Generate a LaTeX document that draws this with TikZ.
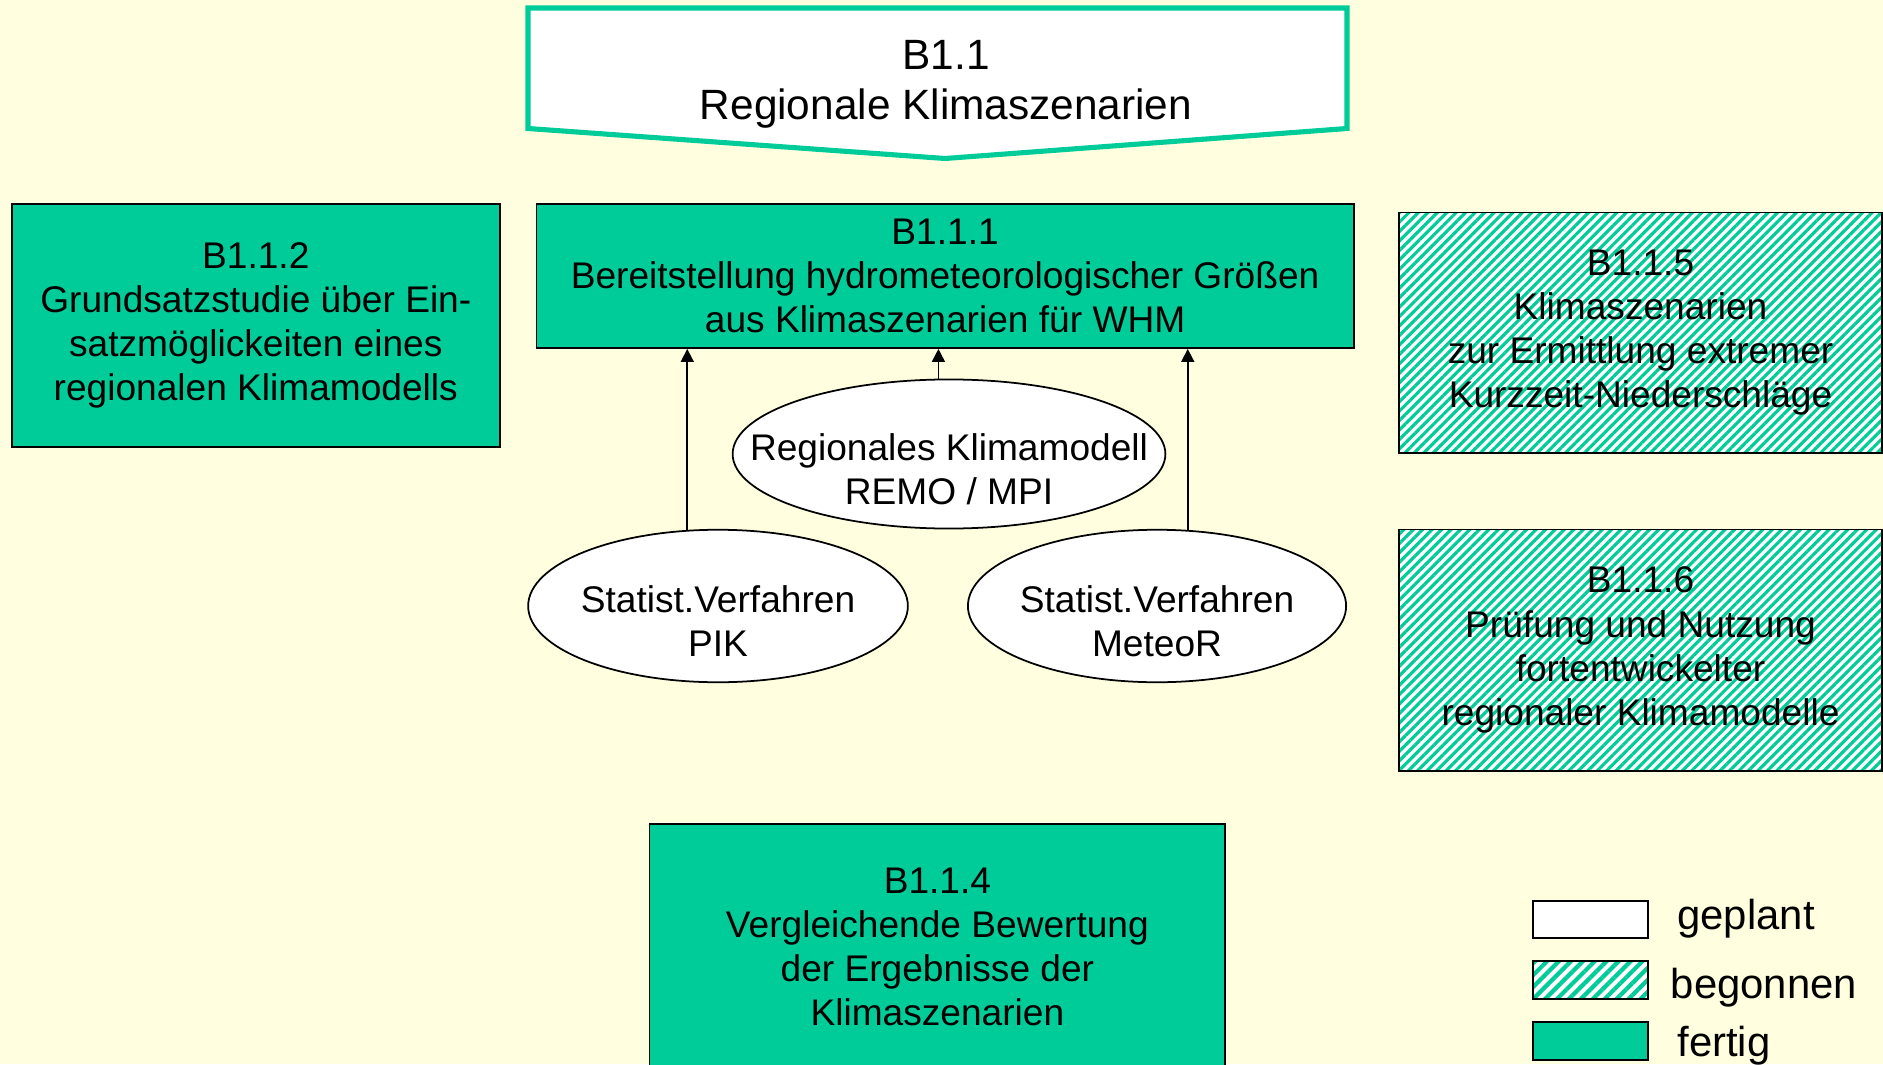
\documentclass[tikz,border=0pt]{standalone}
\usepackage{fontspec}
\setmainfont{Liberation Sans}
\usetikzlibrary{shapes.geometric,arrows.meta,patterns.meta}
\newcommand{\boxfont}{\fontsize{10.55}{12.6}\selectfont}
\newcommand{\bannerfont}{\fontsize{12.05}{14.3}\selectfont}
\newcommand{\legendfont}{\fontsize{11.9}{14}\selectfont}
\begin{document}
\begin{tikzpicture}[x=0.01cm, y=-0.01cm,
  every node/.style={font=\boxfont},
  workbox/.style={draw=black, line width=0.5pt, inner sep=0pt, align=center},
  donebox/.style={workbox, fill=tealgreen},
  startedbox/.style={workbox, preaction={fill=white},
    pattern={Lines[angle=45, distance=1.9pt, line width=0.9pt]}, pattern color=tealgreen},
  methodoval/.style={ellipse, draw=black, line width=0.5pt, fill=white, inner sep=0pt},
  feeds/.style={-{Triangle[length=3.7pt, width=3.7pt]}, line width=0.5pt}]
\definecolor{paleyellow}{RGB}{255,255,224}
\definecolor{tealgreen}{RGB}{0,204,153}
% Page
\useasboundingbox (0,0) rectangle (1883,1064);
\fill[paleyellow] (0,0) rectangle (1883,1064);
% Banner
\filldraw[fill=white, draw=tealgreen, line width=1.45pt, line join=miter]
  (528,8) -- (1347,8) -- (1347,128.5) -- (945,158.5) -- (528,128.5) -- cycle;
\node[align=center, font=\bannerfont] (b11) at (946,84.5) {B1.1\\Regionale Klimaszenarien};
% Work packages
\node[donebox, minimum width=4.876cm, minimum height=2.427cm] (b112) at (255.8,325.4)
  {B1.1.2\\Grundsatzstudie über Ein-\\satzmöglickeiten eines\\regionalen Klimamodells};
\node[donebox, minimum width=8.166cm, minimum height=1.44cm] (b111) at (945.1,276)
  {B1.1.1\\Bereitstellung hydrometeorologischer Größen\\aus Klimaszenarien für WHM};
\node[startedbox, minimum width=4.83cm, minimum height=2.402cm] (b115) at (1640.5,332.6)
  {B1.1.5\\Klimaszenarien\\zur Ermittlung extremer\\Kurzzeit-Niederschläge};
\node[startedbox, minimum width=4.83cm, minimum height=2.414cm] (b116) at (1640.5,650.3)
  {B1.1.6\\Prüfung und Nutzung\\fortentwickelter\\regionaler Klimamodelle};
\node[donebox, minimum width=5.753cm, minimum height=2.462cm] (b114) at (937.4,946.9)
  {B1.1.4\\Vergleichende Bewertung\\der Ergebnisse der\\Klimaszenarien};
% Methods
\node[methodoval, minimum width=4.325cm, minimum height=1.49cm] (remo) at (949,454) {};
\node[align=center] (remotext) at (949,469) {Regionales Klimamodell\\REMO / MPI};
\node[methodoval, minimum width=3.795cm, minimum height=1.524cm] (pik) at (718,606) {};
\node[align=center] (piktext) at (718,621) {Statist.Verfahren\\PIK};
\node[methodoval, minimum width=3.78cm, minimum height=1.524cm] (meteor) at (1157,606) {};
\node[align=center] (meteortext) at (1157,621) {Statist.Verfahren\\MeteoR};
\draw[feeds] (pik.112) -- (pik.112 |- b111.south);
\draw[feeds] (remo.98.4) -- (remo.98.4 |- b111.south);
\draw[feeds] (meteor.68.6) -- (meteor.68.6 |- b111.south);
% Legend
\node[workbox, fill=white, minimum width=1.15cm, minimum height=0.375cm] (keyplanned) at (1590.5,919.4) {};
\node[workbox, preaction={fill=white}, pattern={Lines[angle=45, distance=2.4pt, line width=1.2pt]},
  pattern color=tealgreen, minimum width=1.15cm, minimum height=0.386cm] (keystarted) at (1590.5,980) {};
\node[donebox, minimum width=1.15cm, minimum height=0.377cm] (keydone) at (1590.5,1041) {};
\node[anchor=base west, inner sep=0pt, font=\legendfont] (keyplannedlab) at (1676.7,929.3) {geplant};
\node[anchor=base west, inner sep=0pt, font=\legendfont] (keystartedlab) at (1670,998.3) {begonnen};
\node[anchor=base west, inner sep=0pt, font=\legendfont] (keydonelab) at (1676.7,1056.7) {fertig};
\end{tikzpicture}
\end{document}
